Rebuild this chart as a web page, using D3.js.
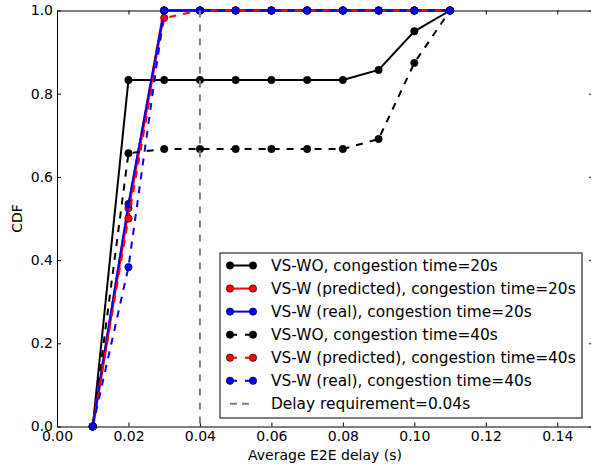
<!DOCTYPE html>
<html>
<head>
<meta charset="utf-8">
<script src="https://cdn.jsdelivr.net/npm/d3@7"></script>
<style>
  body { margin: 0; background: #fff; }
  text { font-family: "DejaVu Sans", sans-serif; }
</style>
</head>
<body>
<div id="chart-area"></div>
<script>
// delay values (s) on x
var delays = [0.01, 0.02, 0.03, 0.04, 0.05, 0.06, 0.07, 0.08, 0.09, 0.10, 0.11];

var woCdf20 = [0, 0.833, 0.833, 0.833, 0.833, 0.833, 0.833, 0.833, 0.857, 0.95, 1.0];
var predCdf20 = [0, 0.525, 1.0, 1.0, 1.0, 1.0, 1.0, 1.0, 1.0, 1.0, 1.0];
var realCdf20 = [0, 0.535, 1.0, 1.0, 1.0, 1.0, 1.0, 1.0, 1.0, 1.0, 1.0];
var woCdf40 = [0, 0.657, 0.667, 0.667, 0.667, 0.667, 0.667, 0.667, 0.691, 0.874, 1.0];
var predCdf40 = [0, 0.5, 0.982, 1.0, 1.0, 1.0, 1.0, 1.0, 1.0, 1.0, 1.0];
var realCdf40 = [0, 0.383, 1.0, 1.0, 1.0, 1.0, 1.0, 1.0, 1.0, 1.0, 1.0];

var seriesNames = [
  "VS-WO, congestion time=20s",
  "VS-W (predicted), congestion time=20s",
  "VS-W (real), congestion time=20s",
  "VS-WO, congestion time=40s",
  "VS-W (predicted), congestion time=40s",
  "VS-W (real), congestion time=40s"
];
var delayReq = 0.04;
var delayReqName = "Delay requirement=0.04s";

var xTicks = [0, 0.02, 0.04, 0.06, 0.08, 0.10, 0.12, 0.14];
var yTicks = [0, 0.2, 0.4, 0.6, 0.8, 1.0];

var dashed = "7,7";
var series = [
  { name: seriesNames[0], values: woCdf20, color: "#000", dash: null, w: 2 },
  { name: seriesNames[1], values: predCdf20, color: "#f00", dash: null, w: 3 },
  { name: seriesNames[2], values: realCdf20, color: "#00f", dash: null, w: 2 },
  { name: seriesNames[3], values: woCdf40, color: "#000", dash: dashed, w: 2 },
  { name: seriesNames[4], values: predCdf40, color: "#f00", dash: dashed, w: 2 },
  { name: seriesNames[5], values: realCdf40, color: "#00f", dash: dashed, w: 2 }
];

var margin = { left: 57, top: 10.5 };
var width = 536, height = 416;

var svg = d3.select("#chart-area").append("svg")
    .attr("width", 591)
    .attr("height", 465);

var g = svg.append("g")
    .attr("transform", "translate(" + margin.left + "," + margin.top + ")");

var x = d3.scaleLinear().domain([0, 0.15]).range([0, width]);
var y = d3.scaleLinear().domain([0, 1]).range([height, 0]);

// axes, ticks pointing inward like old matplotlib
var xAxis = g.append("g")
    .attr("transform", "translate(0," + height + ")")
    .call(d3.axisBottom(x).tickValues(xTicks).tickFormat(d3.format(".2f")).tickSizeInner(-4).tickSizeOuter(0).tickPadding(5));
var xTop = g.append("g")
    .call(d3.axisTop(x).tickValues(xTicks).tickFormat("").tickSizeInner(-4).tickSizeOuter(0));
var yAxis = g.append("g")
    .call(d3.axisLeft(y).tickValues(yTicks).tickFormat(d3.format(".1f")).tickSizeInner(-4).tickSizeOuter(0).tickPadding(4));
var yRight = g.append("g")
    .attr("transform", "translate(" + width + ",0)")
    .call(d3.axisRight(y).tickValues(yTicks).tickFormat("").tickSizeInner(-4).tickSizeOuter(0));

g.selectAll(".domain").attr("stroke", "#000");
g.selectAll(".tick line").attr("stroke", "#000");
g.selectAll(".tick text").attr("font-size", "14px").attr("fill", "#000")
  .style("font-family", "DejaVu Sans");

g.append("text")
    .attr("x", width / 2)
    .attr("y", height + 33)
    .attr("font-size", "14px")
    .attr("text-anchor", "middle")
    .text("Average E2E delay (s)");

g.append("text")
    .attr("transform", "rotate(-90)")
    .attr("x", -(height / 2))
    .attr("y", -35)
    .attr("font-size", "14px")
    .attr("text-anchor", "middle")
    .text("CDF");

var line = d3.line()
    .x(function(d) { return x(d[0]); })
    .y(function(d) { return y(d[1]); });

var plot = g.append("g");

series.forEach(function(s) {
  var pts = delays.map(function(d, i) { return [d, s.values[i]]; });
  plot.append("path")
      .datum(pts)
      .attr("fill", "none")
      .attr("stroke", s.color)
      .attr("stroke-width", s.w)
      .attr("stroke-dasharray", s.dash)
      .attr("d", line);
  plot.selectAll(null).data(pts).enter()
    .append("circle")
      .attr("cx", function(d) { return x(d[0]); })
      .attr("cy", function(d) { return y(d[1]); })
      .attr("r", 3.7)
      .attr("fill", s.color)
      .attr("stroke", "#000")
      .attr("stroke-width", 0.6);
});

plot.append("line")
    .attr("x1", x(delayReq)).attr("x2", x(delayReq))
    .attr("y1", 0).attr("y2", height)
    .attr("stroke", "#808080")
    .attr("stroke-width", 2)
    .attr("stroke-dasharray", dashed);

// legend
var lg = g.append("g").attr("transform", "translate(163,242.5)");
lg.append("rect")
    .attr("width", 362).attr("height", 165)
    .attr("fill", "#fff").attr("stroke", "#000").attr("stroke-width", 1);

var legendItems = series.concat([{ name: delayReqName, color: "#808080", dash: dashed, w: 2, noMarker: true }]);
legendItems.forEach(function(s, i) {
  var row = lg.append("g").attr("transform", "translate(0," + (12.5 + i * 23.05) + ")");
  row.append("line")
      .attr("x1", 10).attr("x2", 33)
      .attr("stroke", s.color).attr("stroke-width", s.w === 3 ? 2 : s.w)
      .attr("stroke-dasharray", s.noMarker ? "7,5" : (s.dash ? "7,8" : null));
  if (!s.noMarker) {
    [10, 33].forEach(function(cx) {
      row.append("circle").attr("cx", cx).attr("cy", 0).attr("r", 3.7)
        .attr("fill", s.color).attr("stroke", "#000").attr("stroke-width", 0.6);
    });
  }
  row.append("text")
      .attr("x", 51).attr("y", 0).attr("dy", "0.36em")
      .attr("font-size", "15.4px")
      .text(s.name);
});
</script>
</body>
</html>
